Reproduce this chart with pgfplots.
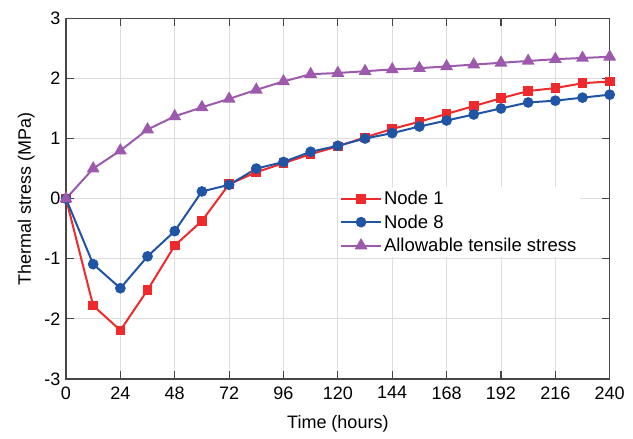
\documentclass[border=0pt]{standalone}
\usepackage{fontspec}
\setmainfont{Liberation Sans}
\usepackage{pgfplots}
\pgfplotsset{compat=1.18}
\definecolor{cred}{RGB}{238,42,44}
\definecolor{cblue}{RGB}{32,84,164}
\definecolor{cpurp}{RGB}{157,90,172}
\definecolor{caxis}{RGB}{70,70,70}
\definecolor{cgrid}{RGB}{222,222,222}
\begin{document}
\begin{tikzpicture}
\begin{axis}[
  scale only axis,
  width=543.7bp, height=360.7bp,
  xmin=0, xmax=240, ymin=-3, ymax=3,
  xtick={0,24,...,240}, ytick={-3,-2,...,3},
  yticklabels={-3,-2,-1,0,1,2,3},
  /pgf/number format/assume math mode=true,
  font=\fontsize{18bp}{22bp}\selectfont,
  tick label style={font=\fontsize{18bp}{22bp}\selectfont},
  label style={font=\fontsize{18bp}{22bp}\selectfont},
  grid=major,
  major grid style={cgrid, line width=0.8bp},
  axis line style={caxis, line width=1.4bp},
  tick style={caxis, line width=1.2bp},
  major tick length=8bp,
  tick align=inside,
  xticklabel style={yshift=-4bp},
  yticklabel style={xshift=-2bp},
  xlabel={Time (hours)},
  ylabel={Thermal stress (MPa)},
  xlabel style={at={(axis description cs:0.5,0)}, anchor=north, yshift=-33bp},
  ylabel style={at={(axis description cs:0,0.5)}, anchor=south, yshift=28bp},
  every axis plot/.append style={line width=2bp},
  legend style={at={(axis description cs:0.5,0.532)}, anchor=north west, draw=none, fill=white,
    font=\fontsize{18.5bp}{22bp}\selectfont, row sep=4.5bp, inner sep=2bp,
    nodes={inner sep=2bp, anchor=west}},
  legend cell align=left,
  legend image code/.code={\draw[mark repeat=2,mark phase=2] plot coordinates {(0bp,0bp) (20bp,0bp) (40bp,0bp)};},
]
\addplot[color=cred, mark=square*, mark size=3.8bp] coordinates {
(0,0) (12,-1.78) (24,-2.19) (36,-1.52) (48,-0.78) (60,-0.37) (72,0.24) (84,0.44) (96,0.59) (108,0.74) (120,0.87)
(132,1.02) (144,1.16) (156,1.28) (168,1.41) (180,1.54) (192,1.67) (204,1.79) (216,1.84) (228,1.92) (240,1.95)};
\addlegendentry{Node 1}
\addplot[color=cblue, mark=*, mark size=4.3bp] coordinates {
(0,0) (12,-1.09) (24,-1.49) (36,-0.96) (48,-0.54) (60,0.12) (72,0.23) (84,0.5) (96,0.61) (108,0.78) (120,0.88)
(132,1.0) (144,1.09) (156,1.2) (168,1.3) (180,1.4) (192,1.5) (204,1.6) (216,1.63) (228,1.68) (240,1.73)};
\addlegendentry{Node 8}
\addplot[color=cpurp, mark=triangle*, mark size=5.5bp] coordinates {
(0,0) (12,0.5) (24,0.8) (36,1.15) (48,1.37) (60,1.52) (72,1.66) (84,1.81) (96,1.95) (108,2.07) (120,2.09)
(132,2.12) (144,2.15) (156,2.17) (168,2.2) (180,2.23) (192,2.26) (204,2.29) (216,2.32) (228,2.34) (240,2.36)};
\addlegendentry{Allowable tensile stress}
\end{axis}
\pgfresetboundingbox
\path[use as bounding box] (-66bp,-60bp) rectangle (567bp,379bp);
\end{tikzpicture}
\end{document}
